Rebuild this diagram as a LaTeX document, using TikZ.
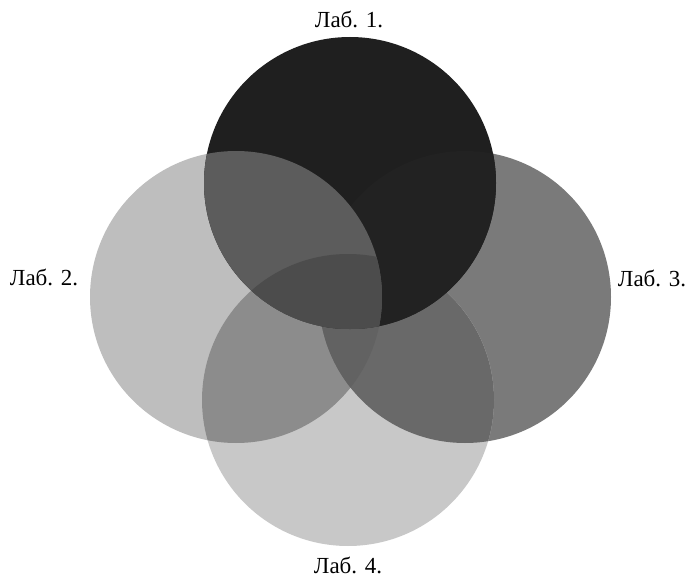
\documentclass[tikz,border=0pt]{standalone}
\usepackage{fontspec}
\setmainfont{Liberation Serif}
\definecolor{tone1}{gray}{0.12}
\definecolor{tone2}{gray}{0.745}
\definecolor{tone3}{gray}{0.48}
\definecolor{tone4}{gray}{0.785}
\definecolor{tone12}{gray}{0.36}
\definecolor{tone13}{gray}{0.135}
\definecolor{tone24}{gray}{0.55}
\definecolor{tone34}{gray}{0.41}
\definecolor{tone234}{gray}{0.385}
\definecolor{tone124}{gray}{0.30}
\begin{document}
\begin{tikzpicture}[
        x=1pt, y=-1pt,
        disc/.style={
            circle,
            draw=none,
            minimum size=292pt,
            inner sep=0pt
        },
        lab/.style={
            font=\fontsize{23}{26}\selectfont,
            inner sep=0pt
        }
    ]
    \useasboundingbox (0,0) rectangle (689,578);

    % Discos
    \node[disc, fill=tone2] (c2) at (236,297) {};
    \node[disc, fill=tone3] (c3) at (465,297) {};
    \node[disc, fill=tone4] (c4) at (348,400) {};

    % Cruces con el disco 4
    \begin{scope}
        \clip (c2.center) circle (146);
        \fill[tone24] (c4.center) circle (146);
    \end{scope}
    \begin{scope}
        \clip (c3.center) circle (146);
        \fill[tone34] (c4.center) circle (146);
        \clip (c2.center) circle (146);
        \fill[tone234] (c4.center) circle (146);
    \end{scope}

    % Disco 1 y sus cruces
    \node[disc, fill=tone1] (c1) at (350,183) {};
    \begin{scope}
        \clip (c1.center) circle (146);
        \fill[tone13] (c3.center) circle (146);
        \fill[tone12] (c2.center) circle (146);
        \clip (c2.center) circle (146);
        \fill[tone124] (c4.center) circle (146);
    \end{scope}

    % Rótulos
    \node[lab] (l1) at (349,19)  {Лаб. 1.};
    \node[lab] (l2) at (44,277)  {Лаб. 2.};
    \node[lab] (l3) at (652,278) {Лаб. 3.};
    \node[lab] (l4) at (348,565) {Лаб. 4.};

\end{tikzpicture}
\end{document}
